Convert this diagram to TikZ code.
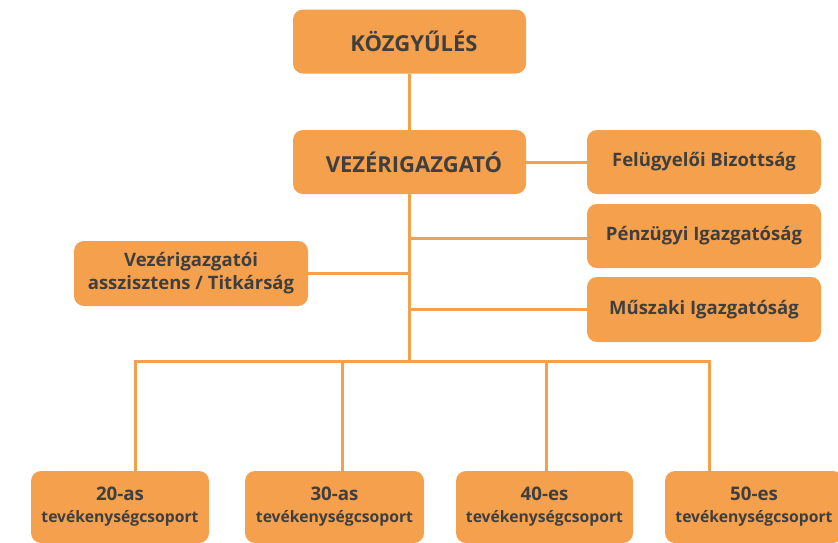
\documentclass[tikz,border=0pt]{standalone}
\usepackage{fontspec}
\setmainfont{Open Sans}
\definecolor{boxfill}{HTML}{F5A04D}
\definecolor{linec}{HTML}{F5A04D}
\definecolor{txt}{HTML}{3F3F3F}
\begin{document}
\begin{tikzpicture}[x=1pt,y=-1pt,
  orgbox/.style={draw=none,fill=boxfill,rounded corners=10pt,text=txt,font=\bfseries,align=center,inner sep=0pt},
  topfont/.style={font=\bfseries\fontsize{22}{26}\selectfont},
  midfont/.style={font=\bfseries\fontsize{18.5}{23}\selectfont},
  lowfont/.style={font=\bfseries\fontsize{15.7}{22}\selectfont},
  conn/.style={draw=linec,line width=3pt}]
\useasboundingbox (0,0) rectangle (838,542);
\clip (0,0) rectangle (838,542);
\node[orgbox,topfont,minimum width=233pt,minimum height=64pt] (koz) at (409.5,41.5) {\hspace*{9pt}KÖZGYŰLÉS};
\node[orgbox,topfont,minimum width=233pt,minimum height=64pt] (vez) at (409.5,162) {\hspace*{9pt}VEZÉRIGAZGATÓ};
\node[orgbox,midfont,minimum width=234pt,minimum height=64pt] (fel) at (704,162) {Felügyelői Bizottság};
\node[orgbox,midfont,minimum width=234pt,minimum height=64pt] (penz) at (704,236) {Pénzügyi Igazgatóság};
\node[orgbox,midfont,minimum width=234pt,minimum height=65pt] (musz) at (704,309.5) {Műszaki Igazgatóság};
\node[orgbox,midfont,minimum width=234pt,minimum height=65pt] (asz) at (191,273.5) {Vezérigazgatói\\asszisztens / Titkárság};
\node[orgbox,lowfont,minimum width=178pt,minimum height=72pt] (b20) at (120,507) {{\fontsize{18.7}{22}\selectfont 20-as}\\tevékenységcsoport};
\node[orgbox,lowfont,minimum width=179pt,minimum height=72pt] (b30) at (334.5,507) {{\fontsize{18.7}{22}\selectfont 30-as}\\tevékenységcsoport};
\node[orgbox,lowfont,minimum width=177pt,minimum height=72pt] (b40) at (544.5,507) {{\fontsize{18.7}{22}\selectfont 40-es}\\tevékenységcsoport};
\node[orgbox,lowfont,minimum width=178pt,minimum height=72pt] (b50) at (754,507) {{\fontsize{18.7}{22}\selectfont 50-es}\\tevékenységcsoport};
\coordinate (bus) at (409.5,361);
\coordinate (d20) at (135,361);
\coordinate (d30) at (342,361);
\coordinate (d40) at (546,361);
\coordinate (d50) at (709,361);
\coordinate (jp) at (409.5,238);
\coordinate (jm) at (409.5,309);
\coordinate (ja) at (409.5,273);
\draw[conn] (koz.south) -- (vez.north);
\draw[conn] (vez.east) -- (fel.west);
\draw[conn] (vez.south) -- (bus);
\draw[conn] (jp) -- (jp -| penz.west);
\draw[conn] (jm) -- (jm -| musz.west);
\draw[conn] (ja) -- (ja -| asz.east);
\draw[conn,line cap=rect] (d20) -- (d50);
\draw[conn] (d20) -- (d20 |- b20.north);
\draw[conn] (d30) -- (d30 |- b30.north);
\draw[conn] (d40) -- (d40 |- b40.north);
\draw[conn] (d50) -- (d50 |- b50.north);
\end{tikzpicture}
\end{document}
